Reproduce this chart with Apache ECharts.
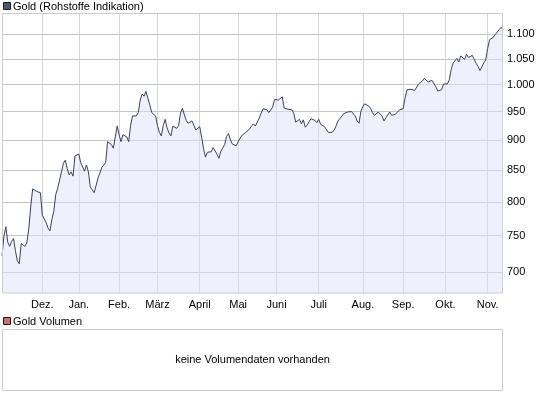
<!DOCTYPE html>
<html><head><meta charset="utf-8">
<script src="https://cdn.jsdelivr.net/npm/echarts@6/dist/echarts.min.js"></script>
<style>html,body{margin:0;padding:0;background:#fff}#c{width:545px;height:395px}</style>
</head><body><div id="c"></div>
<script>
// Month labels (x axis) and daily closing values per month (trading days)
const monthNames = ['Nov.','Dez.','Jan.','Feb.','März','April','Mai','Juni','Juli','Aug.','Sep.','Okt.','Nov.'];
const nov08 = [722,749,763,741,735,742,746,729,715,711,739,738,735,741,761,794,820,818,816,817,814];
const dec08 = [780,778,769,761,757,774,786,811,821,823,847,861,866,852,842,847,840,873,876];
const jan09 = [876,862,861,848,858,847,823,820,814,825,837,845,854,854,862,897,899,892,886,905,924];
const feb09 = [909,897,909,912,905,897,925,942,944,942,948,971,982,978,987,989,962,948,945,942];
const mar09 = [925,913,907,925,936,921,912,907,924,926,920,925,947,956,944,934,929,932,933,925,917,920];
const apr09 = [923,905,885,871,879,878,880,887,886,876,869,881,883,892,906,911,900,893,894,890];
const may09 = [897,899,908,910,913,916,919,924,928,924,926,938,947,955,956,953,948,949,958,972];
const jun09 = [974,971,969,977,956,953,954,952,953,947,931,933,936,928,935,922,926,932,937,936,934,930];
const jul09 = [936,927,927,923,920,913,910,913,917,924,933,937,939,946,948,949,948,950,951,942,933,929,951];
const aug09 = [959,964,963,960,956,948,943,944,949,952,942,933,939,942,949,943,943,945,948,953,950];
const sep09 = [955,975,990,993,991,989,989,987,1001,1000,1007,1012,1012,1005,1007,1008,1007,996,988,988,990,1001];
const oct09 = [998,1001,1009,1029,1042,1043,1051,1044,1056,1055,1049,1059,1053,1055,1057,1055,1041,1035,1027,1029,1042,1048];
const nov09 = [1071,1089,1090,1094,1100,1104,1110,1115,1110];
const yTicks = [700,750,800,850,900,950,1000,1050,1100];

const months = [nov08,dec08,jan09,feb09,mar09,apr09,may09,jun09,jul09,aug09,sep09,oct09,nov09];
const categories = [];
const values = [];
const monthStarts = new Set();
months.forEach((arr, m) => {
  arr.forEach((v, j) => {
    if (j === 0 && m > 0) monthStarts.add(categories.length);
    categories.push(monthNames[m] + '|' + j);
    values.push(v);
  });
});
const isMonthStart = (idx) => monthStarts.has(idx);
const fmtY = (v) => {
  const r = Math.round(v);
  return r >= 1000 ? Math.floor(r / 1000) + '.' + String(r % 1000).padStart(3, '0') : String(r);
};
const FONT = 'Liberation Sans, Arial, sans-serif';
const GRID_C = '#d4d4d4';
const HGRID_C = '#c4c4c4';

const chart = echarts.init(document.getElementById('c'), null, {renderer: 'canvas'});
chart.setOption({
  animation: false,
  backgroundColor: '#ffffff',
  grid: {left: 2, top: 13, width: 501, height: 280, show: false, containLabel: false},
  xAxis: {
    type: 'category', data: categories, boundaryGap: false,
    axisLine: {show: false}, axisTick: {show: false},
    axisLabel: {interval: isMonthStart, formatter: (v) => v.split('|')[0], margin: 6,
      color: '#000', fontSize: 11, fontFamily: FONT},
    splitLine: {show: true, interval: isMonthStart, lineStyle: {color: GRID_C, width: 1}}
  },
  yAxis: {
    type: 'log', logBase: 10, position: 'right', min: 672.6, max: 1145.8,
    axisLine: {show: false},
    axisTick: {show: false, customValues: yTicks},
    axisLabel: {customValues: yTicks, formatter: fmtY, margin: 4, color: '#000',
      fontSize: 11, fontFamily: FONT},
    splitLine: {show: true, lineStyle: {color: HGRID_C, width: 1, opacity: 1}}
  },
  series: [
    {
      name: 'Gold', type: 'line', data: values, showSymbol: false, symbol: 'none',
      lineStyle: {color: '#38425e', width: 1},
      areaStyle: {color: '#dde4f8', opacity: 0.5, origin: 'start'},
      z: 3
    }
  ],
  graphic: [
    {type: 'rect', shape: {x: 2.5, y: 13.5, width: 500, height: 279.5},
      style: {fill: 'none', stroke: '#cccccc', lineWidth: 1}, z: 10, silent: true},
    {type: 'rect', shape: {x: 3.5, y: 2.5, width: 7, height: 7},
      style: {fill: '#4d5673', stroke: '#1a1a1a', lineWidth: 1}, silent: true},
    {type: 'text', x: 13, y: 7, style: {text: 'Gold (Rohstoffe Indikation)', fill: '#000',
      font: '11px ' + FONT, verticalAlign: 'middle'}, silent: true},
    {type: 'rect', shape: {x: 3.5, y: 317.5, width: 7, height: 7},
      style: {fill: '#d66b66', stroke: '#1a1a1a', lineWidth: 1}, silent: true},
    {type: 'text', x: 13, y: 321.5, style: {text: 'Gold Volumen', fill: '#000',
      font: '11px ' + FONT, verticalAlign: 'middle'}, silent: true},
    {type: 'rect', shape: {x: 2.5, y: 329.5, width: 500, height: 61},
      style: {fill: '#ffffff', stroke: '#cccccc', lineWidth: 1}, silent: true},
    {type: 'text', x: 252.5, y: 360, style: {text: 'keine Volumendaten vorhanden', fill: '#000',
      font: '11px ' + FONT, align: 'center', verticalAlign: 'middle'}, silent: true}
  ]
});
</script>
</body></html>
